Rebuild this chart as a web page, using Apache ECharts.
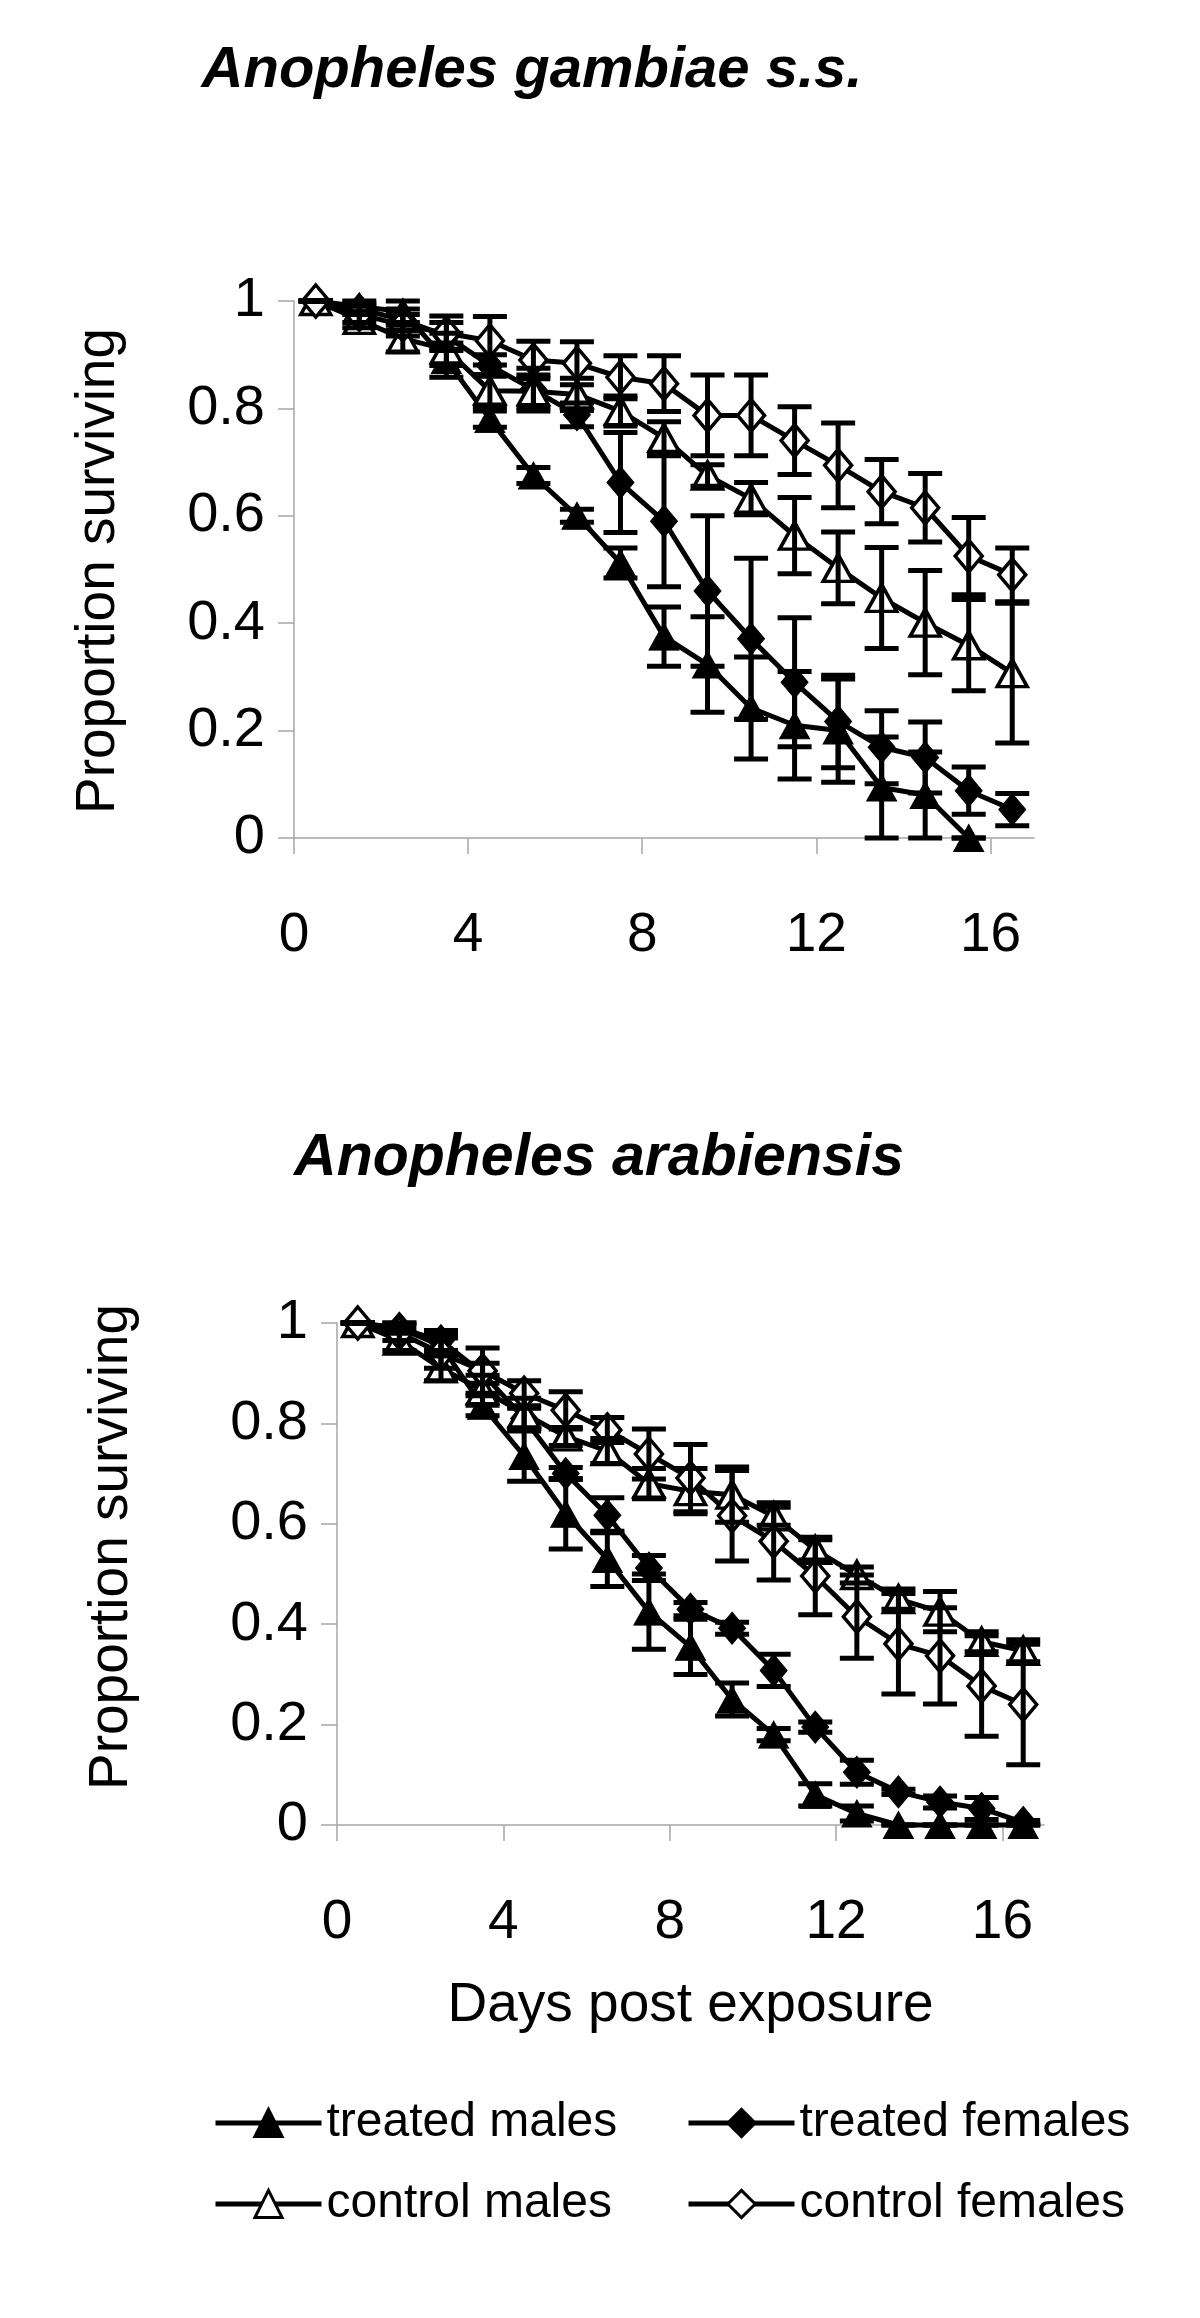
<!DOCTYPE html>
<html>
<head>
<meta charset="utf-8">
<script src="https://cdn.jsdelivr.net/npm/echarts@6/dist/echarts.min.js"></script>
<style>
html,body{margin:0;padding:0;background:#fff;}
#chart{width:1200px;height:2318px;}
</style>
</head>
<body>
<div id="chart"></div>
<script>
// ---------- data ----------
const days = [0.5, 1.5, 2.5, 3.5, 4.5, 5.5, 6.5, 7.5, 8.5, 9.5, 10.5, 11.5, 12.5, 13.5, 14.5, 15.5, 16.5];
const xTicks = [0, 4, 8, 12, 16];
const legendNames = ['treated males', 'treated females', 'control males', 'control females'];
const titles = ['Anopheles gambiae s.s.', 'Anopheles arabiensis'];
const yTitle = 'Proportion surviving';
const xTitle = 'Days post exposure';

// Anopheles gambiae s.s.
const gamTreatedMales      = [1.0, 0.99, 0.98, 0.89, 0.78, 0.675, 0.60, 0.512, 0.375, 0.323, 0.242, 0.21, 0.20, 0.094, 0.08, 0, null];
const gamTreatedMalesErr   = [0, 0.01, 0.02, 0.032, 0.015, 0.015, 0.012, 0.028, 0.055, 0.089, 0.095, 0.1, 0.096, 0.094, 0.08, 0, null];
const gamTreatedFemales    = [1.0, 0.985, 0.965, 0.935, 0.88, 0.835, 0.788, 0.662, 0.59, 0.46, 0.371, 0.29, 0.217, 0.169, 0.15, 0.088, 0.053];
const gamTreatedFemalesErr = [0, 0.01, 0.02, 0.025, 0.02, 0.04, 0.022, 0.093, 0.122, 0.14, 0.15, 0.12, 0.086, 0.068, 0.066, 0.044, 0.03];
const gamControlMales      = [1.0, 0.965, 0.93, 0.91, 0.833, 0.832, 0.826, 0.795, 0.745, 0.675, 0.632, 0.563, 0.503, 0.447, 0.401, 0.359, 0.307];
const gamControlMalesErr   = [0, 0.015, 0.025, 0.03, 0.03, 0.03, 0.03, 0.028, 0.03, 0.02, 0.03, 0.071, 0.067, 0.094, 0.097, 0.085, 0.13];
const gamControlFemales    = [1.0, 0.975, 0.955, 0.94, 0.926, 0.89, 0.884, 0.858, 0.846, 0.787, 0.787, 0.74, 0.694, 0.645, 0.615, 0.525, 0.49];
const gamControlFemalesErr = [0, 0.015, 0.02, 0.032, 0.045, 0.035, 0.04, 0.04, 0.052, 0.075, 0.075, 0.063, 0.079, 0.06, 0.064, 0.072, 0.05];

// Anopheles arabiensis
const araTreatedMales      = [1.0, 0.99, 0.955, 0.835, 0.735, 0.62, 0.53, 0.425, 0.355, 0.25, 0.18, 0.06, 0.023, 0, 0, 0, 0];
const araTreatedMalesErr   = [0, 0.01, 0.02, 0.02, 0.05, 0.07, 0.055, 0.075, 0.055, 0.033, 0.012, 0.022, 0.015, 0, 0, 0, 0];
const araTreatedFemales    = [1.0, 0.99, 0.965, 0.90, 0.81, 0.70, 0.617, 0.512, 0.43, 0.392, 0.308, 0.195, 0.105, 0.066, 0.046, 0.033, 0.005];
const araTreatedFemalesErr = [0, 0.01, 0.02, 0.02, 0.02, 0.012, 0.035, 0.025, 0.013, 0.012, 0.032, 0.01, 0.024, 0.005, 0.012, 0.022, 0.004];
const araControlMales      = [1.0, 0.965, 0.91, 0.866, 0.82, 0.774, 0.745, 0.68, 0.665, 0.658, 0.615, 0.548, 0.498, 0.45, 0.425, 0.365, 0.347];
const araControlMalesErr   = [0, 0.02, 0.025, 0.03, 0.03, 0.018, 0.025, 0.03, 0.045, 0.055, 0.018, 0.02, 0.016, 0.02, 0.04, 0.02, 0.022];
const araControlFemales    = [1.0, 0.98, 0.94, 0.905, 0.86, 0.826, 0.787, 0.739, 0.691, 0.616, 0.565, 0.496, 0.415, 0.361, 0.337, 0.277, 0.24];
const araControlFemalesErr = [0, 0.015, 0.03, 0.045, 0.025, 0.037, 0.025, 0.05, 0.067, 0.09, 0.077, 0.077, 0.083, 0.1, 0.096, 0.1, 0.12];

// ---------- styling ----------
const FONT = '"Liberation Sans", Arial, Helvetica, sans-serif';
const AXIS_GRAY = '#a6a6a6';
const LINE_W = 5;
const markers = {
  'treated males':   { symbol: 'triangle', size: [30, 27], fill: '#000', bw: 1 },
  'treated females': { symbol: 'diamond',  size: [27, 32], fill: '#000', bw: 1 },
  'control males':   { symbol: 'triangle', size: [30, 27], fill: '#fff', bw: 3.5 },
  'control females': { symbol: 'diamond',  size: [27, 32], fill: '#fff', bw: 3.5 }
};

function lineSeries(name, vals, gi) {
  const m = markers[name];
  const data = [];
  days.forEach((d, i) => { if (vals[i] != null) data.push([d, vals[i]]); });
  return {
    type: 'line', name: name, xAxisIndex: gi, yAxisIndex: gi, data: data,
    symbol: m.symbol, symbolSize: m.size, showSymbol: true, clip: false,
    itemStyle: { color: m.fill, borderColor: '#000', borderWidth: m.bw },
    lineStyle: { color: '#000', width: LINE_W },
    emphasis: { disabled: true }, z: 2, animation: false
  };
}

function errRender(params, api) {
  const x = api.value(0), lo = api.value(1), hi = api.value(2);
  const pHi = api.coord([x, hi]);
  const pLo = api.coord([x, lo]);
  const hw = 17;
  const st = { stroke: '#000', lineWidth: LINE_W, lineCap: 'butt' };
  return {
    type: 'group',
    children: [
      { type: 'line', shape: { x1: pHi[0], y1: pHi[1], x2: pLo[0], y2: pLo[1] }, style: st },
      { type: 'line', shape: { x1: pHi[0] - hw, y1: pHi[1], x2: pHi[0] + hw, y2: pHi[1] }, style: st },
      { type: 'line', shape: { x1: pLo[0] - hw, y1: pLo[1], x2: pLo[0] + hw, y2: pLo[1] }, style: st }
    ]
  };
}

function errSeries(vals, errs, gi) {
  const data = [];
  days.forEach((d, i) => {
    if (vals[i] != null) data.push([d, vals[i] - errs[i], vals[i] + errs[i]]);
  });
  return {
    type: 'custom', xAxisIndex: gi, yAxisIndex: gi, data: data,
    renderItem: errRender, encode: { x: 0, y: [1, 2] },
    clip: false, silent: true, z: 3, animation: false
  };
}

function xAxisCfg(gi, extra) {
  return Object.assign({
    gridIndex: gi, type: 'value', min: 0, max: 17,
    axisLine: { show: true, onZero: false, lineStyle: { color: AXIS_GRAY, width: 1.5 } },
    axisTick: { show: true, customValues: xTicks, length: 16, lineStyle: { color: AXIS_GRAY, width: 1.5 } },
    axisLabel: { customValues: xTicks, margin: 70, fontSize: 55, color: '#000', fontFamily: FONT },
    splitLine: { show: false }
  }, extra || {});
}
function yAxisCfg(gi) {
  return {
    gridIndex: gi, type: 'value', min: 0, max: 1, interval: 0.2,
    axisLine: { show: true, lineStyle: { color: AXIS_GRAY, width: 1.5 } },
    axisTick: { show: true, length: 16, lineStyle: { color: AXIS_GRAY, width: 1.5 } },
    axisLabel: { margin: 29, fontSize: 56, color: '#000', fontFamily: FONT },
    splitLine: { show: false }
  };
}

const groups = [
  [gamTreatedMales, gamTreatedMalesErr, gamTreatedFemales, gamTreatedFemalesErr,
   gamControlMales, gamControlMalesErr, gamControlFemales, gamControlFemalesErr],
  [araTreatedMales, araTreatedMalesErr, araTreatedFemales, araTreatedFemalesErr,
   araControlMales, araControlMalesErr, araControlFemales, araControlFemalesErr]
];

const series = [];
groups.forEach((g, gi) => {
  legendNames.forEach((n, k) => series.push(lineSeries(n, g[2 * k], gi)));
  legendNames.forEach((n, k) => series.push(errSeries(g[2 * k], g[2 * k + 1], gi)));
});

const legendBase = {
  orient: 'vertical', top: 2099, padding: 0, itemWidth: 106, itemHeight: 34, itemGap: 33,
  selectedMode: false,
  lineStyle: { width: LINE_W, color: '#000' },
  itemStyle: { borderWidth: 3, borderColor: '#000' },
  textStyle: { fontSize: 48, color: '#000', fontFamily: FONT }
};

const option = {
  animation: false,
  backgroundColor: '#fff',
  grid: [
    { left: 294, top: 301, width: 740, height: 537 },
    { left: 337, top: 1323, width: 707, height: 502 }
  ],
  xAxis: [
    xAxisCfg(0),
    xAxisCfg(1, { name: xTitle, nameLocation: 'middle', nameGap: 153,
                  nameTextStyle: { fontSize: 55, color: '#000', fontFamily: FONT } })
  ],
  yAxis: [yAxisCfg(0), yAxisCfg(1)],
  legend: [
    Object.assign({}, legendBase, { left: 213, data: [legendNames[0], legendNames[2]] }),
    Object.assign({}, legendBase, { left: 686, data: [legendNames[1], legendNames[3]] })
  ],
  graphic: [
    { type: 'text', x: 532, y: 71, style: { text: titles[0], font: 'italic bold 58px ' + FONT, fill: '#000', textAlign: 'center', textVerticalAlign: 'middle' } },
    { type: 'text', x: 599, y: 1159, style: { text: titles[1], font: 'italic bold 59px ' + FONT, fill: '#000', textAlign: 'center', textVerticalAlign: 'middle' } },
    { type: 'text', x: 99, y: 571, rotation: Math.PI / 2, style: { text: yTitle, font: '55px ' + FONT, fill: '#000', textAlign: 'center', textVerticalAlign: 'middle' } },
    { type: 'text', x: 112, y: 1547, rotation: Math.PI / 2, style: { text: yTitle, font: '55px ' + FONT, fill: '#000', textAlign: 'center', textVerticalAlign: 'middle' } }
  ],
  series: series
};

const chart = echarts.init(document.getElementById('chart'), null, { renderer: 'canvas', width: 1200, height: 2318 });
chart.setOption(option);
</script>
</body>
</html>
